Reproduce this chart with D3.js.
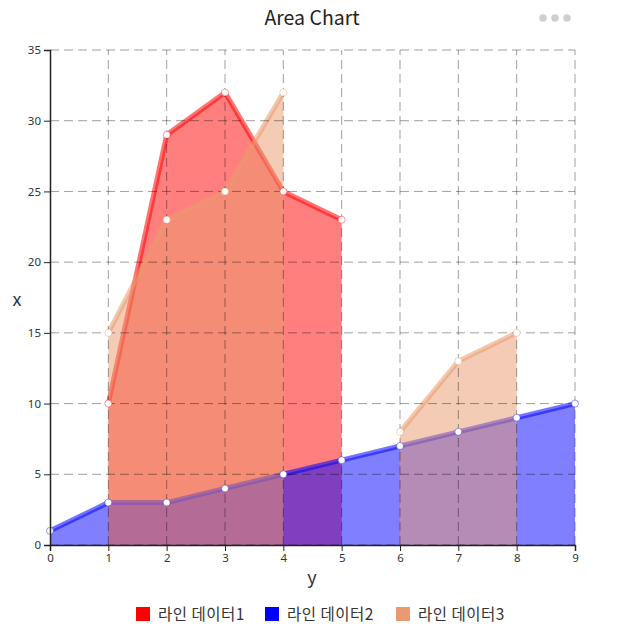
<!DOCTYPE html>
<html>
<head>
<meta charset="utf-8">
<script src="https://cdn.jsdelivr.net/npm/d3@7"></script>
<style>
  body { margin:0; background:#fff; }
  text { font-family: "Noto Sans CJK KR", "Noto Sans", sans-serif; }
</style>
</head>
<body>
<svg id="chart" width="625" height="625"></svg>
<script>
// ===== data =====
const xTicks = [0,1,2,3,4,5,6,7,8,9];
const yTicks = [0,5,10,15,20,25,30,35];
const seriesNames = ["라인 데이터1","라인 데이터2","라인 데이터3"];
const seriesColors = ["#ff0000","#0000ff","#e99a6e"];
const data1 = [[1,10],[2,29],[3,32],[4,25],[5,23]];
const data2 = [[0,1],[1,3],[2,3],[3,4],[4,5],[5,6],[6,7],[7,8],[8,9],[9,10]];
const data3 = [[1,15],[2,23],[3,25],[4,32],[5,null],[6,8],[7,13],[8,15]];

const svg = d3.select("#chart");
const x = d3.scaleLinear().domain([0,9]).range([50,575]);
const y = d3.scaleLinear().domain([0,35]).range([545,50]);

// title + menu dots
svg.append("text").attr("x",312).attr("y",25).attr("text-anchor","middle")
  .style("font-size","19.5px").style("fill","#222").text("Area Chart");
[543,555,567].forEach(cx => svg.append("circle").attr("cx",cx).attr("cy",18).attr("r",3.8).attr("fill","#cfcfcf"));

// areas + lines
const all = [data1,data2,data3];
all.forEach((d,i)=>{
  const area = d3.area().defined(p=>p[1]!=null).x(p=>x(p[0])).y0(y(0)).y1(p=>y(p[1]));
  const line = d3.line().defined(p=>p[1]!=null).x(p=>x(p[0])).y(p=>y(p[1]));
  const g = svg.append("g");
  g.append("path").attr("d",area(d)).attr("fill",seriesColors[i]).attr("fill-opacity",0.5);
  g.append("path").attr("d",line(d)).attr("fill","none").attr("stroke",seriesColors[i])
    .attr("stroke-width",5).attr("stroke-opacity",0.55).attr("stroke-linejoin","round");
});

// grid
const grid = svg.append("g").attr("stroke","rgba(0,0,0,0.38)").attr("stroke-dasharray","9,5");
yTicks.forEach(t => grid.append("line").attr("x1",x(0)).attr("x2",x(9)).attr("y1",y(t)).attr("y2",y(t)));
xTicks.slice(1).forEach(t => grid.append("line").attr("x1",x(t)).attr("x2",x(t)).attr("y1",y(0)).attr("y2",y(35)));

// points
all.forEach((d,i)=>{
  svg.append("g").selectAll("circle").data(d.filter(p=>p[1]!=null)).join("circle")
    .attr("cx",p=>x(p[0])).attr("cy",p=>y(p[1])).attr("r",3.5)
    .attr("fill","#fff").attr("stroke",seriesColors[i]).attr("stroke-opacity",0.4).attr("stroke-width",1);
});

// axes
const xAxis = svg.append("g").attr("transform",`translate(0,${y(0)})`)
  .call(d3.axisBottom(x).tickValues(xTicks).tickSize(6).tickFormat(d3.format("d")));
const yAxis = svg.append("g").attr("transform",`translate(${x(0)},0)`)
  .call(d3.axisLeft(y).tickValues(yTicks).tickSize(6).tickFormat(d3.format("d")));
[xAxis,yAxis].forEach(a=>{
  a.selectAll("text").style("font-size","11.5px").style("fill","#333")
    .style("font-family","'Noto Sans', sans-serif");
  a.select(".domain").attr("stroke","#222").attr("stroke-width",1.5);
  a.selectAll(".tick line").attr("stroke","#222");
});

svg.append("text").attr("x",17).attr("y",306).attr("text-anchor","middle")
  .style("font-size","18px").style("fill","#333").text("x");
svg.append("text").attr("x",312).attr("y",584).attr("text-anchor","middle")
  .style("font-size","18px").style("fill","#333").text("y");

// legend
const legendX = [136,265,396];
seriesNames.forEach((n,i)=>{
  svg.append("rect").attr("x",legendX[i]).attr("y",607).attr("width",14).attr("height",14).attr("fill",seriesColors[i]);
  svg.append("text").attr("x",legendX[i]+22).attr("y",620)
    .style("font-size","15.5px").style("letter-spacing","0.5px").style("fill","#333").text(n);
});
</script>
</body>
</html>
